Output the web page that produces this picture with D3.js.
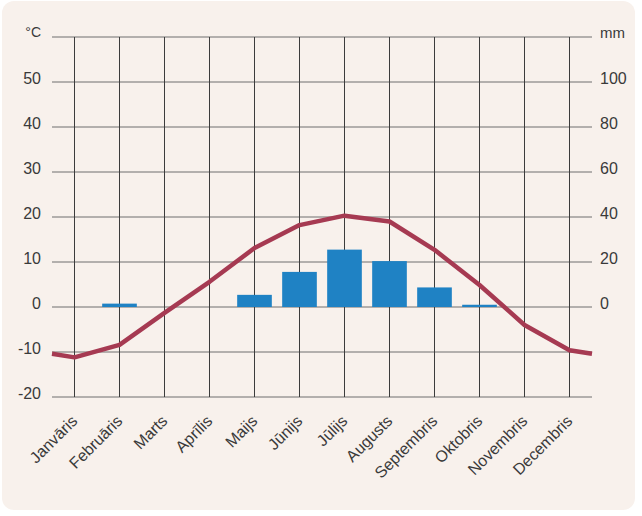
<!DOCTYPE html>
<html>
<head>
<meta charset="utf-8">
<script src="https://cdn.jsdelivr.net/npm/d3@7"></script>
<style>
  html, body { margin: 0; padding: 0; background: #ffffff; }
  text { font-family: "Liberation Sans", Arial, sans-serif; fill: #3a3a3a; }
</style>
</head>
<body>
<div id="chart"></div>
<script>
const months = ['Janvāris','Februāris','Marts','Aprīlis','Maijs','Jūnijs',
  'Jūlijs','Augusts','Septembris','Oktobris','Novembris','Decembris'];
const temperature = [-11.2, -8.4, -1.3, 5.6, 13.1, 18.2, 20.3, 19.0, 12.7, 4.9, -4.0, -9.6];
const tempEdges = [-10.4, -10.4]; // line runs on to the chart edges
const precipitation = [0, 1.5, 0, 0, 5.4, 15.6, 25.5, 20.4, 8.7, 1.0, 0, 0];
const tempTicks = [-20, -10, 0, 10, 20, 30, 40, 50];
const precipTicks = [0, 20, 40, 60, 80, 100];

const W = 642, H = 516;
const margin = {top: 37, bottom: 119, left: 52, right: 50};

const svg = d3.select('#chart').append('svg')
  .attr('width', W).attr('height', H);

// card background
svg.append('rect')
  .attr('x', 2).attr('y', 1)
  .attr('width', 633).attr('height', 509)
  .attr('rx', 12)
  .attr('fill', '#f8f1ec');

const x = d3.scaleBand()
  .domain(months)
  .range([margin.left, W - margin.right])
  .paddingInner(0.23).paddingOuter(0.115);
const cx = m => x(m) + x.bandwidth() / 2;

const yT = d3.scaleLinear().domain([-20, 60]).range([H - margin.bottom, margin.top]);
const yP = d3.scaleLinear().domain([-40, 120]).range([H - margin.bottom, margin.top]);

// horizontal grid
svg.append('g')
  .selectAll('line')
  .data(tempTicks.concat([60]))
  .enter().append('line')
  .attr('x1', margin.left).attr('x2', W - margin.right)
  .attr('y1', d => yT(d)).attr('y2', d => yT(d))
  .attr('stroke', '#6e6e6e').attr('stroke-width', 1);

// vertical grid
svg.append('g')
  .selectAll('line')
  .data(months)
  .enter().append('line')
  .attr('x1', d => cx(d)).attr('x2', d => cx(d))
  .attr('y1', yT(60)).attr('y2', yT(-20))
  .attr('stroke', '#3c3c3c').attr('stroke-width', 1);

// left axis labels
svg.append('g')
  .selectAll('text')
  .data(tempTicks)
  .enter().append('text')
  .attr('x', 41).attr('y', d => yT(d) - 4)
  .attr('dy', '0.35em')
  .attr('text-anchor', 'end')
  .style('font-size', '16px')
  .text(d => d);
svg.append('text')
  .attr('x', 41).attr('y', yT(60) - 5)
  .attr('dy', '0.35em')
  .attr('text-anchor', 'end')
  .style('font-size', '14px')
  .text('°C');

// right axis labels
svg.append('g')
  .selectAll('text')
  .data(precipTicks)
  .enter().append('text')
  .attr('x', 600).attr('y', d => yP(d) - 4)
  .attr('dy', '0.35em')
  .style('font-size', '16px')
  .text(d => d);
svg.append('text')
  .attr('x', 600).attr('y', yP(120) - 4)
  .attr('dy', '0.35em')
  .style('font-size', '15px')
  .text('mm');

// precipitation bars
svg.append('g')
  .selectAll('rect')
  .data(months.map((m, i) => ({m: m, v: precipitation[i]})).filter(d => d.v > 0))
  .enter().append('rect')
  .attr('x', d => x(d.m))
  .attr('width', x.bandwidth())
  .attr('y', d => yP(d.v))
  .attr('height', d => yP(0) - yP(d.v))
  .attr('fill', '#1f82c4');

// temperature line, running from the left edge to the right edge
const pts = [[margin.left, tempEdges[0]]];
months.forEach((m, i) => pts.push([cx(m), temperature[i]]));
pts.push([W - margin.right, tempEdges[1]]);

svg.append('path')
  .attr('d', d3.line().x(d => d[0]).y(d => yT(d[1]))(pts))
  .attr('fill', 'none')
  .attr('stroke', '#a63a52')
  .attr('stroke-width', 4.5)
  .attr('stroke-linejoin', 'round');

// month labels
svg.append('g')
  .selectAll('text')
  .data(months)
  .enter().append('text')
  .attr('text-anchor', 'end')
  .attr('transform', d => 'translate(' + (cx(d) + 4) + ',' + (yT(-20) + 25) + ') rotate(-45)')
  .style('font-size', '16px')
  .text(d => d);
</script>
</body>
</html>
